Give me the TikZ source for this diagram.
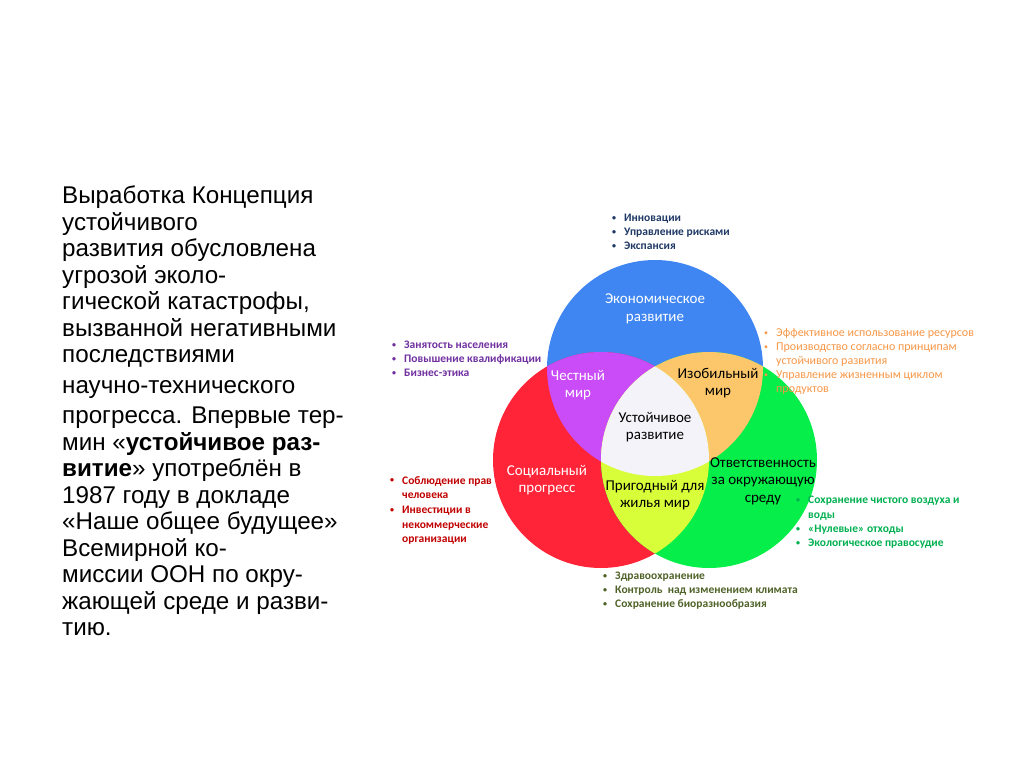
\documentclass[tikz,border=0pt]{standalone}
\usepackage{fontspec}
\setmainfont{Liberation Sans}
\newfontfamily\calfont{Carlito}
\usetikzlibrary{positioning}
\definecolor{ecoblue}{HTML}{3F86F2}
\definecolor{socred}{HTML}{FF2438}
\definecolor{envgreen}{HTML}{05EE4A}
\definecolor{fairviolet}{HTML}{C94CF8}
\definecolor{richorange}{HTML}{FCC76A}
\definecolor{liveyellow}{HTML}{D8FE3A}
\definecolor{coremist}{HTML}{F4F3F9}
\definecolor{listnavy}{HTML}{1F3864}
\definecolor{listviolet}{HTML}{7030A0}
\definecolor{listorange}{HTML}{F79646}
\definecolor{listred}{HTML}{C00000}
\definecolor{listgreen}{HTML}{00B050}
\definecolor{listolive}{HTML}{4F6228}
\newcommand{\bul}{\makebox[12pt][l]{\raisebox{1.2pt}{\fontsize{8}{8}\selectfont\textbullet}}}
\newcommand{\ind}{\hspace*{12pt}}
\tikzset{
  ringlabel/.style={
    font=\calfont\fontsize{15}{17.5}\selectfont,
    color=#1, align=center, inner sep=0pt
  },
  ringlabel/.default=black,
  bulletlist/.style={
    font=\calfont\bfseries\fontsize{11.5}{14}\selectfont,
    color=#1, align=left, anchor=north west, inner sep=0pt
  },
  bulletlist/.default=black,
}
\begin{document}
\begin{tikzpicture}[x=1pt, y=-1pt]
  \useasboundingbox (0,0) rectangle (1024,767);

  % Intro text
  \node[anchor=north west, inner sep=0pt, align=left,
        font=\fontsize{24.2}{26.5}\selectfont] (intro) at (62,186)
    {Выработка Концепция\\
     устойчивого\\
     развития обусловлена\\
     угрозой эколо-\\
     гической катастрофы,\\
     вызванной негативными\\
     последствиями\\[4pt]
     научно-технического\\[4pt]
     прогресса. Впервые тер-\\
     мин «\textbf{устойчивое раз-}\\
     \textbf{витие}» употреблён в\\
     1987 году в докладе\\
     «Наше общее будущее»\\
     Всемирной ко-\\
     миссии ООН по окру-\\
     жающей среде и разви-\\
     тию.};

  % Social list (partly under the red ring)
  \node[bulletlist=listred, font=\calfont\bfseries\fontsize{11.5}{14.7}\selectfont] (soclist) at (390,476)
    {\bul Соблюдение прав\\
     \ind человека\\
     \bul Инвестиции в\\
     \ind некоммерческие\\
     \ind организации};

  % Rings
  \coordinate (eco) at (655,368);
  \coordinate (soc) at (601,460);
  \coordinate (env) at (709,460);
  \fill[ecoblue] (eco) circle (108);
  \fill[socred] (soc) circle (108);
  \fill[envgreen] (env) circle (108);
  \begin{scope}
    \clip (eco) circle (108);
    \fill[fairviolet] (soc) circle (108);
    \fill[richorange] (env) circle (108);
  \end{scope}
  \begin{scope}
    \clip (soc) circle (108);
    \fill[liveyellow] (env) circle (108);
  \end{scope}
  \begin{scope}
    \clip (eco) circle (108);
    \clip (soc) circle (108);
    \fill[coremist] (env) circle (108);
  \end{scope}

  % Ring labels
  \node[ringlabel=white] (ecotxt) at (655,309) {Экономическое\\развитие};
  \node[ringlabel=white] (fairtxt) at (578,385) {Честный\\мир};
  \node[ringlabel] (richtxt) at (718,383) {Изобильный\\мир};
  \node[ringlabel] (coretxt) at (655,427) {Устойчивое\\развитие};
  \node[ringlabel=white] (soctxt) at (547,480) {Социальный\\прогресс};
  \node[ringlabel] (livetxt) at (655,495) {Пригодный для\\жилья мир};
  \node[ringlabel] (envtxt) at (763,481) {Ответственность\\за окружающую\\среду};

  % Bullet lists
  \node[bulletlist=listnavy] (ecolist) at (612,214)
    {\bul Инновации\\
     \bul Управление рисками\\
     \bul Экспансия};
  \node[bulletlist=listviolet] (fairlist) at (392,341)
    {\bul Занятость населения\\
     \bul Повышение квалификации\\
     \bul Бизнес-этика};
  \node[bulletlist=listorange, font=\calfont\fontsize{12}{14}\selectfont] (richlist) at (764,328)
    {\bul Эффективное использование ресурсов\\
     \bul Производство согласно принципам\\
     \ind устойчивого развития\\
     \bul Управление жизненным циклом\\
     \ind продуктов};
  \node[bulletlist=listgreen, font=\calfont\bfseries\fontsize{11.5}{14.3}\selectfont] (envlist) at (796,496)
    {\bul Сохранение чистого воздуха и\\
     \ind воды\\
     \bul «Нулевые» отходы\\
     \bul Экологическое правосудие};
  \node[bulletlist=listolive] (livelist) at (603,572)
    {\bul Здравоохранение\\
     \bul Контроль\ \ над изменением климата\\
     \bul Сохранение биоразнообразия};
\end{tikzpicture}
\end{document}
